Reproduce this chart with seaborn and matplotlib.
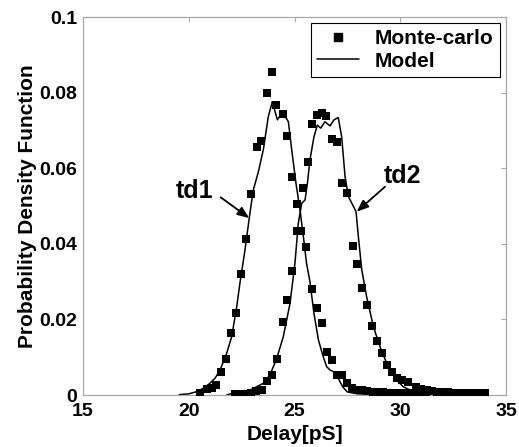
import matplotlib
matplotlib.use("Agg")
import matplotlib.pyplot as plt
from matplotlib.lines import Line2D
import seaborn as sns
import pandas as pd

# ---- Monte-carlo samples (td1 and td2) ----
mc_td1_x = [20.53, 20.85, 21.08, 21.29, 21.51, 21.74, 21.98, 22.23, 22.46, 22.71, 22.93,
            23.21, 23.40, 23.68, 23.92, 24.13, 24.44, 24.63, 24.87, 25.10, 25.33, 25.54,
            25.81, 26.08, 26.31, 26.52, 26.75, 26.99, 27.23, 27.47, 27.72, 27.95, 28.20,
            28.45, 28.70, 28.95, 29.20, 29.45, 29.70, 29.95, 30.20, 30.45, 30.70, 30.95, 31.20]
mc_td1_y = [0.0004, 0.0015, 0.0019, 0.0026, 0.0062, 0.0095, 0.0163, 0.0216, 0.0319, 0.0412, 0.0532,
            0.0657, 0.0673, 0.0798, 0.0855, 0.0767, 0.0743, 0.0685, 0.0576, 0.0505, 0.0435, 0.0392,
            0.0280, 0.0231, 0.0191, 0.0115, 0.0093, 0.0053, 0.0053, 0.0031, 0.0019, 0.0014, 0.0012,
            0.0010, 0.0009, 0.0008, 0.0007, 0.0006, 0.0005, 0.0005, 0.0004, 0.0004, 0.0003, 0.0003, 0.0002]

mc_td2_x = [22.20, 22.45, 22.70, 22.95, 23.20, 23.45, 23.71, 23.92, 24.17, 24.44, 24.63, 24.90,
            25.13, 25.38, 25.65, 25.84, 26.05, 26.28, 26.49, 26.75, 27.02, 27.23, 27.47, 27.75,
            27.94, 28.18, 28.44, 28.65, 28.89, 29.12, 29.36, 29.60, 29.83, 30.07, 30.38, 30.74,
            31.00, 31.25, 31.50, 31.75, 32.00, 32.25, 32.50, 32.75, 33.00, 33.25, 33.50, 33.75, 34.00]
mc_td2_y = [0.0003, 0.0002, 0.0003, 0.0006, 0.0010, 0.0014, 0.0038, 0.0053, 0.0095, 0.0194, 0.0251, 0.0328,
            0.0434, 0.0547, 0.0617, 0.0717, 0.0741, 0.0745, 0.0738, 0.0677, 0.0670, 0.0560, 0.0535, 0.0394,
            0.0347, 0.0284, 0.0238, 0.0183, 0.0143, 0.0110, 0.0080, 0.0062, 0.0046, 0.0040, 0.0035, 0.0022,
            0.0016, 0.0013, 0.0011, 0.0009, 0.0008, 0.0007, 0.0006, 0.0006, 0.0005, 0.0005, 0.0004, 0.0004, 0.0004]

# ---- Model curves ----
model_td1_x = [19.55, 20.0, 20.38, 20.7, 21.0, 21.25, 21.48, 21.79, 22.03, 22.27, 22.42, 22.66,
               22.86, 23.05, 23.29, 23.53, 23.76, 23.95, 24.19, 24.39, 24.55, 24.71, 24.87,
               25.07, 25.26, 25.42, 25.57, 25.73, 25.92, 26.13, 26.36, 26.52, 26.68, 26.83,
               27.0, 27.15, 27.3, 27.5, 28.0, 29.0, 30.0]
model_td1_y = [0.0001, 0.0003, 0.0009, 0.0018, 0.0031, 0.0045, 0.0066, 0.0110, 0.0154, 0.0234, 0.0296, 0.0384,
               0.0468, 0.0542, 0.0590, 0.0650, 0.0736, 0.0776, 0.0728, 0.0745, 0.0738, 0.0723, 0.0648,
               0.0560, 0.0490, 0.0419, 0.0348, 0.0300, 0.0216, 0.0146, 0.0101, 0.0075, 0.0066, 0.0062,
               0.0053, 0.0035, 0.0020, 0.0008, 0.0003, 0.0001, 0.0000]

model_td2_x = [21.8, 22.03, 22.9, 23.53, 23.84, 24.16, 24.47, 24.79, 25.02, 25.18, 25.34, 25.50,
               25.61, 25.73, 25.92, 26.08, 26.24, 26.44, 26.68, 26.87, 27.07, 27.23, 27.39, 27.55,
               27.91, 28.02, 28.18, 28.41, 28.73, 29.04, 29.36, 29.75, 30.14, 30.62, 31.5, 33.0]
model_td2_y = [0.0000, 0.0004, 0.0013, 0.0031, 0.0053, 0.0097, 0.0154, 0.0243, 0.0348, 0.0454, 0.0507, 0.0516,
               0.0560, 0.0622, 0.0683, 0.0714, 0.0706, 0.0723, 0.0712, 0.0728, 0.0734, 0.0683, 0.0578, 0.0525,
               0.0485, 0.0419, 0.0331, 0.0260, 0.0181, 0.0128, 0.0084, 0.0044, 0.0022, 0.0009, 0.0002, 0.0000]

x_ticks = [15, 20, 25, 30, 35]
y_ticks = [0, 0.02, 0.04, 0.06, 0.08, 0.1]
y_tick_labels = ["0", "0.02", "0.04", "0.06", "0.08", "0.1"]

mc = pd.DataFrame({
    "delay": mc_td1_x + mc_td2_x,
    "pdf": mc_td1_y + mc_td2_y,
    "curve": ["td1"] * len(mc_td1_x) + ["td2"] * len(mc_td2_x),
})
model = pd.DataFrame({
    "delay": model_td1_x + model_td2_x,
    "pdf": model_td1_y + model_td2_y,
    "curve": ["td1"] * len(model_td1_x) + ["td2"] * len(model_td2_x),
})

sns.set_style("white")
plt.rcParams["font.family"] = ["Liberation Sans", "DejaVu Sans"]
plt.rcParams["font.weight"] = "bold"
plt.rcParams["text.color"] = "black"
plt.rcParams["axes.labelcolor"] = "black"
plt.rcParams["xtick.color"] = "black"
plt.rcParams["ytick.color"] = "black"

fig = plt.figure(figsize=(5.19, 4.47), dpi=100)
ax = fig.add_axes([83 / 519, 1 - 395 / 447, 423 / 519, 378 / 447])

sns.lineplot(data=model, x="delay", y="pdf", units="curve", estimator=None, sort=False,
             color="black", linewidth=1.1, ax=ax, legend=False)
sns.scatterplot(data=mc, x="delay", y="pdf", marker="s", color="black", s=34,
                linewidth=0, ax=ax, legend=False, zorder=3)

ax.set_xlim(15, 35)
ax.set_ylim(0, 0.1)
ax.set_xticks(x_ticks)
ax.set_xticklabels([str(t) for t in x_ticks])
ax.set_yticks(y_ticks)
ax.set_yticklabels(y_tick_labels)

spine_col = "#a8a8a8"
for sp in ax.spines.values():
    sp.set_visible(True)
    sp.set_color(spine_col)
    sp.set_linewidth(0.9)
ax.tick_params(axis="both", which="both", direction="in", length=3.5, width=0.8,
               color=spine_col, labelcolor="black", top=True, right=True, labelsize=14)
ax.tick_params(axis="x", pad=6)
ax.tick_params(axis="y", pad=4)
for lab in ax.get_xticklabels() + ax.get_yticklabels():
    lab.set_fontweight("bold")

ax.set_xlabel("Delay[pS]", fontsize=15, fontweight="bold", labelpad=3, color="black")
ax.set_ylabel("Probability Density Function", fontsize=15, fontweight="bold", labelpad=2,
              color="black")

# annotations
ax.text(19.4, 0.0521, "td1", fontsize=18, fontweight="bold", ha="left", va="baseline",
        color="black")
ax.annotate("", xy=(22.86, 0.0468), xytext=(21.51, 0.0523),
            arrowprops=dict(arrowstyle="-|>,head_length=0.5,head_width=0.2", color="black",
                            lw=1.3, mutation_scale=14, shrinkA=0, shrinkB=0))
ax.text(29.2, 0.0560, "td2", fontsize=18, fontweight="bold", ha="left", va="baseline",
        color="black")
ax.annotate("", xy=(27.94, 0.0485), xytext=(29.28, 0.0551),
            arrowprops=dict(arrowstyle="-|>,head_length=0.5,head_width=0.2", color="black",
                            lw=1.3, mutation_scale=14, shrinkA=0, shrinkB=0))

handles = [
    Line2D([], [], linestyle="none", marker="s", color="black", markersize=5.5),
    Line2D([], [], color="black", linewidth=1.1),
]
leg = ax.legend(handles, ["Monte-carlo", "Model"], loc="upper right", fontsize=15,
                frameon=True, fancybox=False, framealpha=1, edgecolor="black",
                borderaxespad=0.3, handlelength=2.0, handletextpad=0.75,
                borderpad=0.3, labelspacing=0.15)
leg.get_frame().set_linewidth(0.8)
for t in leg.get_texts():
    t.set_fontweight("bold")
    t.set_color("black")

fig.savefig("out.png", dpi=100)
